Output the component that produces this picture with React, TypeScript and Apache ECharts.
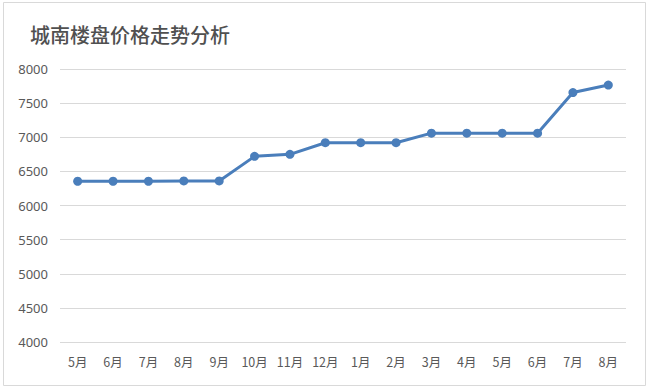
import React, { useEffect, useRef } from "react";
import * as echarts from "echarts";

const title = "城南楼盘价格走势分析";
const categories = ["5月", "6月", "7月", "8月", "9月", "10月", "11月", "12月", "1月", "2月", "3月", "4月", "5月", "6月", "7月", "8月"];
const prices = [6355, 6355, 6355, 6360, 6360, 6720, 6750, 6920, 6920, 6920, 7060, 7060, 7060, 7060, 7655, 7765];
const yMin = 4000;
const yMax = 8000;
const yStep = 500;

export default function App() {
  const ref = useRef<HTMLDivElement>(null);
  useEffect(() => {
    document.body.style.margin = "0";
    const chart = echarts.init(ref.current!, undefined, { renderer: "svg" });
    chart.setOption({
      animation: false,
      backgroundColor: "#ffffff",
      title: {
        text: title,
        left: 25,
        top: 19,
        textStyle: {
          fontFamily: "Noto Sans CJK SC",
          fontSize: 20,
          fontWeight: 500,
          color: "#505050",
        },
      },
      graphic: [
        {
          type: "rect",
          shape: { x: 3.5, y: 2.5, width: 642, height: 383 },
          style: { fill: "none", stroke: "#d9d9d9", lineWidth: 1 },
          silent: true,
        },
      ],
      grid: { left: 60, right: 24, top: 69, bottom: 49, containLabel: false },
      xAxis: {
        type: "category",
        data: categories,
        boundaryGap: true,
        axisLine: { show: false },
        axisTick: { show: false },
        axisLabel: {
          color: "#595959",
          fontSize: 12.5,
          fontFamily: "Noto Sans CJK SC",
          margin: 13,
          interval: 0,
        },
      },
      yAxis: {
        type: "value",
        min: yMin,
        max: yMax,
        interval: yStep,
        axisLine: { show: false },
        axisTick: { show: false },
        axisLabel: {
          color: "#595959",
          fontSize: 13,
          fontFamily: "Noto Sans",
          margin: 12,
          formatter: (v: number) => String(v),
        },
        splitLine: { lineStyle: { color: "#d9d9d9", width: 1 } },
      },
      series: [
        {
          type: "line",
          data: prices,
          symbol: "circle",
          symbolSize: 9,
          lineStyle: { color: "#4a7ebb", width: 3 },
          itemStyle: { color: "#4a7ebb" },
        },
      ],
    });
    return () => chart.dispose();
  }, []);
  return <div ref={ref} style={{ width: 650, height: 391 }} />;
}
